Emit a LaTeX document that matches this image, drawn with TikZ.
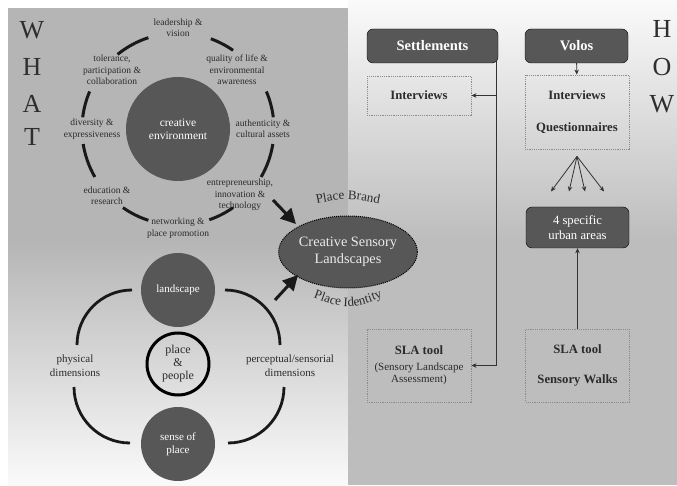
\documentclass[tikz,border=0pt]{standalone}
\usepackage{fontspec}
\setmainfont{Liberation Serif}
\usepackage{tikz}
\usetikzlibrary{arrows.meta, positioning, calc, shapes.geometric, decorations.text}
\definecolor{panelgray}{HTML}{B5B5B5}
\definecolor{panelwhite}{HTML}{FAFAFA}
\definecolor{rightgray}{HTML}{BDBDBD}
\definecolor{discgray}{HTML}{575757}
\definecolor{inkgray}{HTML}{2B2B2B}
\definecolor{dotgray}{HTML}{8C8C8C}
\newcommand{\fs}[2]{\fontsize{#1}{#2}\selectfont}

\begin{document}
\begin{tikzpicture}[x=1pt, y=1pt, >={Stealth[length=5pt,width=4.5pt]},
    lbl/.style={align=center, text=inkgray, font=\fs{9.5}{11.5}},
    disc/.style={circle, fill=discgray, text=white, minimum size=74pt, inner sep=0pt, align=center, font=\fs{11}{13}},
    ringarc/.style={line width=3pt, black!90},
    loopline/.style={line width=2.8pt, black!90},
    darkbox/.style={draw=black, rounded corners=6pt, fill=discgray, text=white, inner sep=0pt, align=center},
    dotbox/.style={draw=dotgray, dash pattern=on 1.2pt off 1pt, line width=0.9pt, inner sep=0pt, align=center, text=inkgray, minimum width=104pt},
    flow/.style={->, line width=0.8pt, black!80},
    bigarrow/.style={-{Triangle[length=15pt,width=15pt]}, line width=3pt, black!90},
    bigletter/.style={text=black!82, font=\fs{26}{26}, inner sep=0pt}]

    % panels
    \useasboundingbox (0,0) rectangle (677,485);
    \fill[white] (0,0) rectangle (677,485);
    \fill[panelgray] (8,245) rectangle (348,477);
    \shade[top color=panelgray, bottom color=panelwhite] (8,0) rectangle (348,245);
    \shade[top color=panelwhite, bottom color=rightgray] (348,245) rectangle (677,485);
    \fill[rightgray] (348,0) rectangle (677,245);

    \foreach \ch/\yy in {W/455, H/418, A/381, T/348}
        \node[bigletter] (what\ch) at (32,\yy) {\ch};
    \foreach \ch/\yy in {H/456, O/418, W/381}
        \node[bigletter] (how\ch) at (662,\yy) {\ch};

    % creative environment
    \node[disc, minimum size=104pt, font=\fs{11.5}{13}] (creative) at (178,356) {creative\\environment};
    \foreach \a/\b in {55/70, 108/129, 7/23, 157/173, -30/-9, -171/-150, -71/-55, -125/-108}
        \draw[ringarc] (creative.center) ++(\a:96) arc[start angle=\a, end angle=\b, radius=96];

    \node[lbl] (leader) at (178,457) {leadership \&\\vision};
    \node[lbl] (tolerance) at (112,415) {tolerance,\\participation \&\\collaboration};
    \node[lbl] (quality) at (237,415) {quality of life \&\\environmental\\awareness};
    \node[lbl] (diversity) at (92,356) {diversity \&\\expressiveness};
    \node[lbl] (authentic) at (263,356) {authenticity \&\\cultural assets};
    \node[lbl] (education) at (107,289) {education \&\\research};
    \node[lbl] (entre) at (240,290) {entrepreneurship,\\innovation \&\\technology};
    \node[lbl] (network) at (178,257) {networking \&\\place promotion};

    % creative sensory landscapes
    \node[ellipse, draw=black, densely dotted, line width=1pt, fill=discgray, text=white!92!black, minimum width=130pt, minimum height=72pt, inner sep=0pt, align=center, font=\fs{14.3}{17}] (csl) at (348,233) {Creative Sensory\\Landscapes};
    \path[decorate, decoration={text along path, text align=center, text color=inkgray, text={|\fs{13}{13}|Place Brand}}] (303,278) .. controls (348,288) .. (393,278);
    \path[decorate, decoration={text along path, text align=center, text color=inkgray, text={|\fs{13}{13}|Place Identity}}] (302,192) .. controls (348,174) .. (394,192);

    \coordinate (brandout) at (273,285);
    \coordinate (brandin) at (296,261);
    \coordinate (identout) at (275,185);
    \coordinate (identin) at (298,210);
    \draw[bigarrow] (brandout) -- (brandin);
    \draw[bigarrow] (identout) -- (identin);

    % place and people
    \node[disc] (land) at (178,195) {landscape};
    \node[circle, draw=black, line width=3pt, minimum size=62pt, inner sep=0pt, align=center, text=inkgray, font=\fs{12}{13}] (people) at (178,121) {place\\\&\\people};
    \node[disc] (sense) at (178,41) {sense of\\place};

    \draw[loopline] (132,195) arc[start angle=90, end angle=180, radius=55];
    \draw[loopline] (74,98) arc[start angle=180, end angle=270, radius=56];
    \draw[loopline] (225,195) arc[start angle=90, end angle=0, radius=55];
    \draw[loopline] (284,98) arc[start angle=0, end angle=-90, radius=56];

    \node[lbl, font=\fs{11}{14}] (phys) at (75,119) {physical\\dimensions};
    \node[lbl, font=\fs{11}{14}] (perc) at (290,119) {perceptual/sensorial\\dimensions};

    % how
    \node[darkbox, minimum width=131pt, minimum height=34pt, font=\bfseries\fs{14.5}{16}] (sett) at (432.5,439) {Settlements};
    \node[darkbox, minimum width=103pt, minimum height=34pt, font=\bfseries\fs{14.5}{16}] (volos) at (576.5,439) {Volos};
    \node[dotbox, minimum height=39pt, font=\bfseries\fs{12.7}{15}] (intL) at (419,389.5) {Interviews};
    \node[dotbox, minimum height=74pt, font=\bfseries\fs{12.7}{15}] (intR) at (577,373) {Interviews\\[17pt]Questionnaires};
    \node[darkbox, minimum width=103pt, minimum height=41pt, font=\fs{12.7}{15}] (areas) at (577.5,257.5) {4 specific\\urban areas};
    \node[dotbox, minimum height=73pt, font=\fs{11}{12.5}] (slaL) at (419,119.5) {\textbf{\fs{12.7}{15}SLA tool}\\[3pt](Sensory Landscape\\Assessment)};
    \node[dotbox, minimum height=73pt, font=\bfseries\fs{12.7}{15}] (slaR) at (577.5,119.5) {SLA tool\\[15pt]Sensory Walks};

    \draw[flow] ([xshift=-1.5pt,yshift=2pt]sett.south east) |- (intL.east);
    \draw[flow] ([xshift=-1.5pt,yshift=2pt]sett.south east) |- (slaL.east);
    \draw[flow] (volos) -- (intR);
    \coordinate (fan) at ([yshift=-7pt]intR.south);
    \foreach \dx [count=\i] in {-26,-8,8,27} {
        \coordinate (tip\i) at ($(fan)+(\dx,-35)$);
        \draw[flow] (fan) -- (tip\i);
    }
    \draw[flow] (slaR) -- (areas);
\end{tikzpicture}
\end{document}
